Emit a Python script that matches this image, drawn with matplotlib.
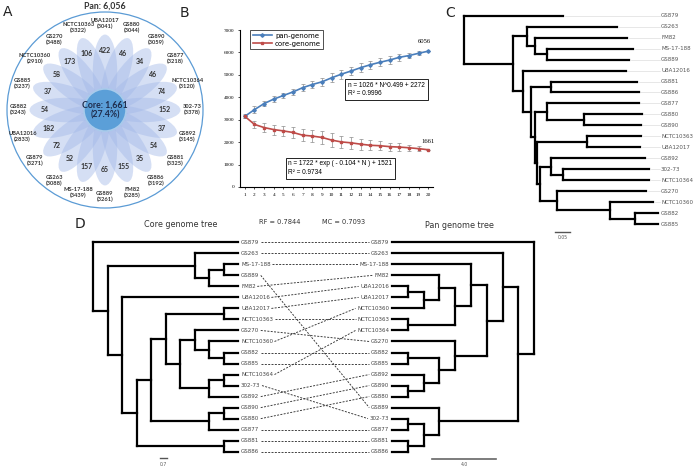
import matplotlib
matplotlib.use("Agg")
import matplotlib.pyplot as plt
import numpy as np
from matplotlib.patches import Ellipse, Circle
from matplotlib.collections import LineCollection

plt.rcParams['font.family'] = ['DejaVu Sans']

# ---------------- data ----------------
# Panel A (flower plot)
flower_names = ["UBA12017", "GS880", "GS890", "GS877", "NCTC10364", "302-73", "GS892",
                "GS881", "GS886", "FM82", "GS889", "MS-17-188", "GS263", "GS879",
                "UBA12016", "GS882", "GS885", "NCTC10360", "GS270", "NCTC10363"]
flower_totals = [3041, 3044, 3059, 3218, 3120, 3378, 3145, 3325, 3192, 3285, 3261, 3439,
                 3088, 3271, 2833, 3243, 3237, 2910, 3488, 3322]
flower_unique = [422, 46, 34, 46, 74, 152, 37, 54, 35, 155, 65, 157, 52, 72, 182, 54, 37,
                 58, 173, 106]
core_genes = 1661
pan_genes = 6056

# Panel B (pan/core genome curves)
n_genomes = list(range(1, 21))
pan_mean = [3150, 3450, 3720, 3920, 4080, 4240, 4430, 4570, 4690, 4870, 5030, 5170,
            5320, 5450, 5560, 5660, 5780, 5860, 5960, 6056]
pan_err = [90, 150, 130, 120, 120, 140, 160, 170, 170, 210, 200, 190, 210, 190, 170,
           160, 140, 120, 90, 0]
core_mean = [3150, 2790, 2650, 2560, 2500, 2430, 2310, 2270, 2210, 2090, 2010, 1970,
             1910, 1860, 1840, 1800, 1780, 1750, 1710, 1661]
core_err = [80, 170, 200, 220, 230, 250, 260, 270, 290, 300, 280, 260, 250, 230, 200,
            180, 160, 130, 100, 0]
pan_fit = "n = 1026 * N^0.499 + 2272\nR² = 0.9996"
core_fit = "n = 1722 * exp ( - 0.104 * N ) + 1521\nR² = 0.9734"

# Panel C (phylogeny with branch lengths)
tree_c = ("(GS879:0.330,((GS263:0.300,(FM82:0.307,(MS-17-188:0.287,GS889:0.273):0.040):0.027):0.047,"
          "(UBA12016:0.343,((GS881:0.287,GS886:0.293):0.067,((GS877:0.307,(GS880:0.193,GS890:0.190):0.123):0.040,"
          "((NCTC10363:0.180,UBA12017:0.177):0.167,((GS892:0.313,(302-73:0.287,NCTC10364:0.287):0.040):0.037,"
          "(GS270:0.297,(NCTC10360:0.143,(GS882:0.077,GS885:0.077):0.083):0.177):0.057):0.010):0.007):0.013):0.027):0.033):0.163);")
scale_c = 0.05

# Panel D (tanglegram)
tree_core = ("(GS879,((GS263,((MS-17-188,GS889),FM82)),(UBA12016,((((UBA12017,NCTC10363),"
             "((GS270,(NCTC10360,(GS882,GS885))),((NCTC10364,302-73),GS892))),((GS890,GS880),GS877)),(GS881,GS886)))));")
tree_pan = ("(GS879,((GS263,((MS-17-188,((FM82,((UBA12016,UBA12017),NCTC10360)),(NCTC10363,NCTC10364))),"
            "(GS270,((GS882,GS885),(GS892,(GS890,GS880)))))),(GS889,((302-73,GS877),(GS881,GS886)))));")
rf_value = 0.7844
mc_value = 0.7093

# ---------------- helpers ----------------
W, H = 696, 468
fig = plt.figure(figsize=(W / 100, H / 100), dpi=100)


def px_axes(x0, y0, x1, y1):
    return fig.add_axes([x0 / W, 1 - y1 / H, (x1 - x0) / W, (y1 - y0) / H])


def fig_text(x, y, s, **kw):
    return fig.text(x / W, 1 - y / H, s, **kw)


def parse_newick(s):
    s = s.strip().rstrip(';')
    pos = 0

    def node():
        nonlocal pos
        children = []
        if s[pos] == '(':
            pos += 1
            children.append(node())
            while s[pos] == ',':
                pos += 1
                children.append(node())
            pos += 1  # ')'
        start = pos
        while pos < len(s) and s[pos] not in ',():':
            pos += 1
        name = s[start:pos]
        length = 0.0
        if pos < len(s) and s[pos] == ':':
            pos += 1
            start = pos
            while pos < len(s) and s[pos] not in ',()':
                pos += 1
            length = float(s[start:pos])
        return {'name': name, 'children': children, 'length': length}

    return node()


def layout_phylo(root):
    leaves = []

    def rec(n, x):
        n['x'] = x
        if not n['children']:
            n['y'] = len(leaves)
            leaves.append(n)
        else:
            for c in n['children']:
                rec(c, x + c['length'])
            n['y'] = (n['children'][0]['y'] + n['children'][-1]['y']) / 2
    rec(root, 0.0)
    return leaves


def layout_clado(root, tip_x, step):
    leaves = []

    def rec(n):
        if not n['children']:
            n['h'] = 0
            n['y'] = len(leaves)
            leaves.append(n)
        else:
            for c in n['children']:
                rec(c)
            n['h'] = 1 + max(c['h'] for c in n['children'])
            n['y'] = (n['children'][0]['y'] + n['children'][-1]['y']) / 2
        n['x'] = tip_x + step * n['h']
    rec(root)
    return leaves


def draw_tree(ax, root, lw):
    segs = []

    def rec(n):
        if n['children']:
            ys = [c['y'] for c in n['children']]
            segs.append([(n['x'], min(ys)), (n['x'], max(ys))])
            for c in n['children']:
                segs.append([(n['x'], c['y']), (c['x'], c['y'])])
                rec(c)
    rec(root)
    ax.add_collection(LineCollection(segs, colors='black', linewidths=lw,
                                     capstyle='projecting', joinstyle='miter'))


# ---------------- Panel A ----------------
axA = px_axes(7, 12, 203, 208)
axA.set_xlim(-1, 1)
axA.set_ylim(-1, 1)
axA.axis('off')
npet = len(flower_names)
for i, (nm, tot, uq) in enumerate(zip(flower_names, flower_totals, flower_unique)):
    ang = np.deg2rad(90 - i * 360 / npet)
    c, s_ = np.cos(ang), np.sin(ang)
    axA.add_patch(Ellipse((0.39 * c, 0.39 * s_), width=0.76, height=0.25,
                          angle=np.rad2deg(ang), facecolor='#a3b9e8', alpha=0.45,
                          edgecolor='none', zorder=1))
    axA.text(0.61 * c, 0.61 * s_, str(uq), ha='center', va='center', fontsize=5,
             fontweight='bold', color='#333333', family='Lato', zorder=4)
    axA.text(0.885 * c, 0.885 * s_, f"{nm}\n({tot})", ha='center', va='center',
             fontsize=4.15, fontweight='bold', color='#333333', family='Lato',
             linespacing=1.15, zorder=4)
axA.add_patch(Circle((0, 0), 0.215, facecolor='#5b9fd8', edgecolor='#a9cbeb', lw=1.2, zorder=3))
axA.add_patch(Circle((0, 0), 1.0, facecolor='none', edgecolor='#5b9bd5', lw=0.9, zorder=2,
                     clip_on=False))
axA.text(0, 0, f"Core: {core_genes:,}\n({core_genes / pan_genes * 100:.1f}%)", ha='center',
         va='center', fontsize=6.3, fontweight='bold', color='#1f2d4d', family='Lato', zorder=5)
fig_text(105, 6, f"Pan: {pan_genes:,}", ha='center', va='center', fontsize=6.3,
         fontweight='bold', color='#333333', family='Lato')

# ---------------- Panel B ----------------
axB = px_axes(240, 30, 433, 187)
pan_col, core_col = '#4a7ebb', '#be4b48'
axB.errorbar(n_genomes, pan_mean, yerr=pan_err, fmt='none', ecolor='#8c8c8c', elinewidth=0.5,
             capsize=1.3, capthick=0.5, zorder=1)
axB.errorbar(n_genomes, core_mean, yerr=core_err, fmt='none', ecolor='#8c8c8c', elinewidth=0.5,
             capsize=1.3, capthick=0.5, zorder=1)
axB.plot(n_genomes, pan_mean, color=pan_col, lw=1.2, marker='D', ms=1.8, label='pan-genome', zorder=3)
axB.plot(n_genomes, core_mean, color=core_col, lw=1.2, marker='s', ms=1.8, label='core-genome', zorder=3)
axB.set_xlim(0.5, 20.5)
axB.set_ylim(0, 7000)
axB.set_xticks(n_genomes)
axB.set_yticks(range(0, 7001, 1000))
for sp in ['top', 'right']:
    axB.spines[sp].set_visible(False)
for sp in ['left', 'bottom']:
    axB.spines[sp].set_linewidth(0.8)
axB.tick_params(labelsize=3.8, length=1.5, width=0.5, pad=2.5)
for lab in axB.get_xticklabels() + axB.get_yticklabels():
    lab.set_fontfamily('Liberation Serif')
leg = axB.legend(loc='upper left', bbox_to_anchor=(0.035, 1.02), fontsize=5, frameon=True,
                 fancybox=False, edgecolor='black', borderpad=0.35, handlelength=2.8,
                 labelspacing=0.3, handletextpad=0.4)
leg.get_frame().set_linewidth(0.6)
axB.annotate(f"{pan_mean[-1]}", xy=(n_genomes[-1], pan_mean[-1]), xytext=(-3, 5),
             textcoords='offset points', ha='center', va='bottom', fontsize=4.8,
             family='Liberation Serif')
axB.annotate(f"{core_mean[-1]}", xy=(n_genomes[-1], core_mean[-1]), xytext=(0, 4),
             textcoords='offset points', ha='center', va='bottom', fontsize=4.8,
             family='Liberation Serif')
box = dict(boxstyle='square,pad=0.4', facecolor='white', edgecolor='black', lw=0.6)
axB.text(0.56, 0.62, pan_fit, transform=axB.transAxes, ha='left', va='center', fontsize=4.7,
         family='Liberation Sans', bbox=box, linespacing=1.3)
axB.text(0.25, 0.12, core_fit, transform=axB.transAxes, ha='left', va='center', fontsize=4.7,
         family='Liberation Sans', bbox=box, linespacing=1.3)

# ---------------- Panel C ----------------
axC = px_axes(455, 5, 696, 240)
root_c = parse_newick(tree_c)
leaves_c = layout_phylo(root_c)
axC.set_xlim(-9 / 300, 232 / 300)
axC.set_ylim((240 - 15.7) / 10.97, (5 - 15.7) / 10.97)
axC.axis('off')
draw_tree(axC, root_c, 1.6)
label_x = 197 / 300
for lf in leaves_c:
    axC.plot([lf['x'] + 0.005, label_x - 0.004], [lf['y'], lf['y']], color='#d4d4d4', lw=0.4, zorder=0)
    axC.text(label_x, lf['y'], lf['name'], ha='left', va='center', fontsize=4, color='#555555')
sb_y = len(leaves_c) - 1 + 0.72
axC.plot([0.303, 0.303 + scale_c], [sb_y, sb_y], color='#555555', lw=1.0)
axC.text(0.303 + scale_c / 2, sb_y + 0.25, f"{scale_c:.2f}", ha='center', va='top', fontsize=3.3,
         color='#555555')

# ---------------- Panel D ----------------
axD = px_axes(80, 215, 600, 468)
axD.set_xlim(80, 600)
axD.set_ylim((468 - 242.3) / 11.02, (215 - 242.3) / 11.02)
axD.axis('off')
root_core = parse_newick(tree_core)
root_pan = parse_newick(tree_pan)
leaves_core = layout_clado(root_core, 238, -14.5)
leaves_pan = layout_clado(root_pan, 392, 15.8)
draw_tree(axD, root_core, 1.6)
draw_tree(axD, root_pan, 1.6)
core_txt = {}
pan_txt = {}
for lf in leaves_core:
    core_txt[lf['name']] = (axD.text(241, lf['y'], lf['name'], ha='left', va='center', fontsize=4,
                                     color='#444444'), lf['y'])
for lf in leaves_pan:
    pan_txt[lf['name']] = (axD.text(389, lf['y'], lf['name'], ha='right', va='center', fontsize=4,
                                    color='#444444'), lf['y'])
fig.canvas.draw()
rend = fig.canvas.get_renderer()
inv = axD.transData.inverted()
for name, (t, y0) in core_txt.items():
    bb = t.get_window_extent(rend)
    x_start = inv.transform((bb.x1, 0))[0] + 1.5
    tp, y1 = pan_txt[name]
    bb2 = tp.get_window_extent(rend)
    x_end = inv.transform((bb2.x0, 0))[0] - 1.5
    axD.plot([x_start, x_end], [y0, y1], color='#333333', lw=0.65, ls=(0, (2.2, 1.5)), zorder=0)
# scale bars
axD.plot([160, 167], [19.57, 19.57], color='#555555', lw=1.0)
axD.text(163.5, 19.9, "0.7", ha='center', va='top', fontsize=3.3, color='#555555')
axD.plot([432, 496], [19.66, 19.66], color='#666666', lw=1.2)
axD.text(464, 19.95, "4.0", ha='center', va='top', fontsize=3.3, color='#555555')

fig_text(181, 224, "Core genome tree", ha='center', va='center', fontsize=5.8, color='#333333')
fig_text(280, 222, f"RF = {rf_value}", ha='center', va='center', fontsize=4.8, color='#333333')
fig_text(344, 222, f"MC = {mc_value}", ha='center', va='center', fontsize=4.8, color='#333333')
fig_text(459, 225, "Pan genome tree", ha='center', va='center', fontsize=5.8, color='#333333')

# panel letters
for lt, x, y in [("A", 8, 12), ("B", 184, 13), ("C", 450, 13), ("D", 80, 224)]:
    fig_text(x, y, lt, ha='center', va='center', fontsize=10, color='#222222')

fig.savefig("out.png", dpi=100)
